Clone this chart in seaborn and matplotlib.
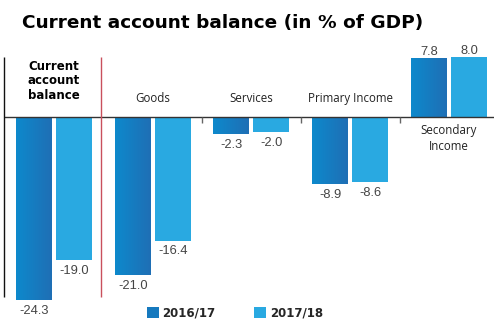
import numpy as np
import pandas as pd
import matplotlib
matplotlib.use("Agg")
import matplotlib.pyplot as plt
from matplotlib.colors import LinearSegmentedColormap
import seaborn as sns

# Balance-of-payments components, % of GDP
categories = ["Current account balance", "Goods", "Services", "Primary Income", "Secondary Income"]
years = ["2016/17", "2017/18"]
values_2016 = [-24.3, -21.0, -2.3, -8.9, 7.8]
values_2017 = [-19.0, -16.4, -2.0, -8.6, 8.0]

cat_labels = ["Current\naccount\nbalance", "Goods", "Services", "Primary Income", "Secondary\nIncome"]

DARK_L, DARK_R = "#0d89cc", "#1f6fb5"
DARK_MID = "#1679be"
LIGHT = "#29a9e1"

df = pd.DataFrame({
    "category": categories * 2,
    "year": [years[0]] * len(categories) + [years[1]] * len(categories),
    "value": values_2016 + values_2017,
})

sns.set_style("white")
plt.rcParams["font.family"] = ["DejaVu Sans"]

fig = plt.figure(figsize=(4.94, 3.21), dpi=100)
ax = fig.add_axes([4 / 494, 21 / 321, 490 / 494, 250.8 / 321])

sns.barplot(data=df, x="category", y="value", hue="year", order=categories,
            hue_order=years, palette=[DARK_MID, LIGHT], saturation=1,
            width=0.81, gap=0.1, linewidth=0, ax=ax)

leg = ax.get_legend()
handles = list(leg.legend_handles)
labels = [t.get_text() for t in leg.get_texts()]
leg.remove()

XLIM = (-0.506, 4.456)
YLIM = (-24.3, 9.0)

# horizontal gradient on the 2016/17 bars
grad_cmap = LinearSegmentedColormap.from_list("dark", [DARK_L, DARK_R])
grad = np.linspace(0, 1, 64).reshape(1, -1)
for bar in ax.containers[0]:
    x0, y0 = bar.get_x(), bar.get_y()
    w, h = bar.get_width(), bar.get_height()
    im = ax.imshow(grad, cmap=grad_cmap, extent=[x0, x0 + w, y0, y0 + h],
                   aspect="auto", zorder=bar.get_zorder() + 0.1, interpolation="bicubic")
    im.set_clip_path(bar)

ax.set_xlim(*XLIM)
ax.set_ylim(*YLIM)
ax.set_axis_off()

# value labels
for container, vals in zip(ax.containers, [values_2016, values_2017]):
    for bar, v in zip(container, vals):
        cx = bar.get_x() + bar.get_width() / 2
        if v < 0:
            ax.annotate(f"{v:.1f}", xy=(cx, v), xytext=(0, -3.5), textcoords="offset points",
                        ha="center", va="top", fontsize=9.3, color="#444444",
                        family="Liberation Sans", annotation_clip=False)
        else:
            ax.annotate(f"{v:.1f}", xy=(cx, v), xytext=(0, 0), textcoords="offset points",
                        ha="center", va="bottom", fontsize=9.3, color="#444444",
                        family="Liberation Sans", annotation_clip=False)

# zero line, left rule, separator and category ticks
ax.axhline(0, color="#333333", lw=1, zorder=5)
ax.vlines(XLIM[0] + 0.005, -23.9, 7.97, color="#111111", lw=1, clip_on=False, zorder=5)
ax.vlines(0.48, -23.9, 7.97, color="#c9505c", lw=1, zorder=5)
ax.vlines(np.arange(1, len(categories) - 1) + 0.5, 0, -0.8, color="#666666", lw=1, zorder=5)

# category labels
ax.text(0, 4.78, cat_labels[0], ha="center", va="center", fontsize=8.5,
        fontweight="bold", color="black", linespacing=1.15)
for i in (1, 2, 3):
    ax.text(i, 2.52, cat_labels[i], ha="center", va="center", fontsize=8.3,
            color="#222222", family="Open Sans")
ax.text(4, -2.86, cat_labels[4], ha="center", va="center", fontsize=8.3,
        color="#222222", family="Open Sans", linespacing=1.35)

fig.text(22 / 494, (321 - 28) / 321, "Current account balance (in % of GDP)",
         ha="left", va="baseline", fontsize=13.3, fontweight="heavy", color="black")

for hnd in handles:
    hnd.set_linewidth(0)
fig.legend(handles, labels, loc="center", bbox_to_anchor=(235 / 494, 8 / 321),
           ncol=2, frameon=False, handlelength=1, handleheight=1,
           handletextpad=0.3, columnspacing=3.3, borderpad=0, borderaxespad=0,
           prop={"family": "DejaVu Sans", "weight": "bold", "size": 8.5})

fig.savefig("out.png", dpi=100)
